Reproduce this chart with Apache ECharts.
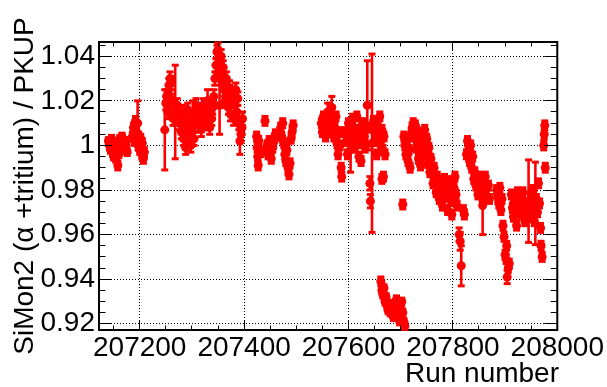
<!DOCTYPE html>
<html>
<head>
<meta charset="utf-8">
<script src="https://cdn.jsdelivr.net/npm/echarts@6/dist/echarts.min.js"></script>
<style>html,body{margin:0;padding:0;background:#fff}#c{width:607px;height:387px}</style>
</head>
<body>
<div id="c"></div>
<script>
// ---- data ----
const runNumber = [
  207140,207142,207144,207146,207148,207150,207152,207154,207156,207158,207160,207162,207164,207166,207168,207170,207172,207174,207176,
  207186,207188,207190,207192,207194,207196,207197,207198,207200,207202,207204,207205,207207,207209,
  207248,207250,207252,207254,207256,207258,207260,207262,207264,207268,207272,207276,
  207278,207280,207282,207284,207286,207288,207290,207292,207294,207296,207298,207300,207302,207304,207306,207308,
  207310,207312,207314,207316,207318,207320,207322,207324,207326,207328,207330,207332,207334,207336,207338,207340,
  207342,207344,207346,207348,207350,207352,207353,207354,207356,207358,207360,207362,207364,207366,
  207368,207370,207372,207374,207376,207378,207380,207382,207384,207386,207388,207390,207392,207394,207396,207397,
  207424,207425,207426,207427,207428,207432,207440,207444,207446,207448,207450,207452,207455,207458,207460,
  207470,207472,207474,207476,207478,207480,207482,207484,207486,207488,207490,207492,207494,
  207548,207550,207552,207554,207556,207558,207560,207562,207564,207566,207568,207570,207572,207574,207576,207578,207580,207582,207584,207586,207587,
  207594,207596,207598,207600,207602,207604,207606,207608,207610,207612,207614,207616,207618,207620,207622,207624,207626,
  207628,207630,207632,207636,207637,207641,207642,207645,207648,207650,207652,207654,207656,207658,207660,207662,207664,207666,
  207668,207670,207664,207667,
  207662,207664,207666,207668,207670,207672,207674,207676,207678,207680,207684,207686,207688,207690,207692,207694,207696,207698,207700,207702,207704,207706,207708,
  207704,
  207706,207708,207710,207712,207714,207716,207718,207720,
  207722,207724,207726,207728,207730,207732,207734,207736,207738,207740,207742,207744,207746,207748,207750,207752,207754,207756,
  207758,207760,207762,207764,207766,207768,207770,207772,207774,207776,207778,207780,207782,207784,207786,207788,207790,207792,207794,207796,207798,207800,207802,207804,207806,207808,
  207812,207814,207816,207820,207822,
  207826,207828,207830,207832,207834,207836,207838,207840,207842,207844,
  207846,207848,207850,207852,207854,207856,207857,207858,207860,207862,207864,207868,207870,
  207884,207886,207888,207890,207892,207894,
  207896,207898,207900,207902,207903,207904,207906,207908,
  207912,207914,207916,207918,207920,207922,207924,
  207928,207930,207932,207934,207936,207938,207940,207942,207945,207948,207950,207952,207954,207956,207958,207960,207962,207964,207966,207968,
  207969,207971,207974,207975,207976,207977
];
const ratio = [
  1.002,1.000,0.998,1.003,0.997,0.995,1.001,0.994,0.999,0.991,0.996,1.003,0.998,1.004,1.001,0.999,1.002,1.000,0.997,
  1.004,1.008,1.002,1.011,1.006,1.010,1.000,1.004,0.998,1.003,0.996,1.001,0.994,0.997,
  1.007,1.019,1.022,1.015,1.027,1.030,1.028,1.020,1.012,1.015,1.018,1.010,
  1.012,1.006,1.015,1.003,1.010,0.999,1.008,1.016,1.002,1.011,1.000,1.006,1.014,1.003,1.009,1.018,
  1.012,1.016,1.009,1.014,1.007,1.013,1.018,1.010,1.015,1.011,1.020,1.013,1.008,1.016,1.012,1.017,
  1.022,1.030,1.036,1.042,1.043,1.038,1.018,1.033,1.040,1.028,1.035,1.025,1.020,1.030,
  1.022,1.017,1.026,1.014,1.020,1.023,1.012,1.018,1.025,1.015,1.021,1.010,1.002,1.005,1.008,1.012,
  1.004,0.999,0.995,0.991,1.002,0.997,1.011,1.000,0.996,1.002,0.998,0.994,0.999,1.003,1.005,
  1.008,1.004,1.010,1.001,0.996,0.993,0.998,0.990,0.987,0.992,1.003,1.006,1.009,
  1.010,1.006,1.013,1.008,1.004,1.011,1.015,1.009,1.012,1.006,1.017,1.010,1.004,1.008,1.013,1.001,0.996,1.006,1.000,0.990,0.986,
  1.006,1.002,0.996,1.010,1.004,0.998,1.008,1.012,1.003,0.999,1.007,1.013,1.001,0.995,1.005,0.993,1.009,
  1.010,1.004,0.999,1.018,1.008,0.983,0.975,1.001,1.011,1.006,1.002,0.996,1.009,1.004,1.013,1.000,1.007,0.998,
  1.004,0.996,0.985,0.986,
  0.939,0.935,0.933,0.936,0.930,0.932,0.928,0.926,0.929,0.925,0.927,0.923,0.929,0.926,0.931,0.928,0.924,0.921,0.927,0.930,0.925,0.921,0.919,
  0.9735,
  1.004,1.000,0.996,1.002,0.993,0.998,0.990,1.005,
  1.008,1.010,1.004,1.009,0.999,1.006,0.994,1.002,0.991,0.997,1.005,1.000,1.007,0.996,1.003,0.992,0.999,0.988,
  0.994,0.988,0.983,0.990,0.985,0.979,0.986,0.981,0.976,0.983,0.978,0.973,0.980,0.985,0.977,0.982,0.971,0.979,0.984,0.976,0.969,0.975,0.981,0.986,0.978,0.973,
  0.960,0.957,0.946,0.971,0.969,
  0.996,1.002,0.998,0.993,1.000,0.990,0.995,0.985,0.988,0.982,
  0.984,0.978,0.983,0.986,0.979,0.984,0.973,0.975,0.981,0.986,0.977,0.982,0.976,
  0.980,0.977,0.974,0.981,0.971,0.976,
  0.964,0.959,0.951,0.949,0.955,0.941,0.945,0.947,
  0.978,0.972,0.968,0.975,0.970,0.964,0.979,
  0.973,0.969,0.975,0.979,0.971,0.966,0.974,0.970,0.975,0.968,0.978,0.972,0.980,0.966,0.974,0.976,0.970,0.983,0.974,0.963,
  0.955,0.950,1.000,1.005,1.009,0.990
];
const ratioError = [
  0.0015,0.0015,0.0015,0.0015,0.0015,0.0015,0.0015,0.0015,0.0015,0.002,0.0015,0.0015,0.0015,0.0015,0.0015,0.0015,0.0015,0.0015,0.0015,
  0.002,0.002,0.002,0.002,0.002,0.010,0.002,0.002,0.002,0.002,0.002,0.002,0.002,0.002,
  0.018,0.003,0.003,0.003,0.003,0.003,0.003,0.003,0.003,0.021,0.003,0.003,
  0.003,0.003,0.003,0.003,0.003,0.003,0.003,0.003,0.003,0.003,0.003,0.003,0.006,0.003,0.003,0.003,
  0.003,0.003,0.003,0.003,0.003,0.003,0.003,0.003,0.003,0.003,0.005,0.003,0.003,0.003,0.003,0.003,
  0.003,0.003,0.003,0.003,0.003,0.003,0.013,0.003,0.003,0.003,0.003,0.003,0.003,0.003,
  0.003,0.003,0.003,0.003,0.003,0.003,0.003,0.003,0.003,0.003,0.003,0.003,0.006,0.003,0.003,0.003,
  0.002,0.002,0.002,0.002,0.002,0.002,0.002,0.002,0.002,0.002,0.002,0.002,0.002,0.002,0.002,
  0.002,0.002,0.002,0.002,0.002,0.002,0.002,0.002,0.002,0.002,0.002,0.002,0.002,
  0.002,0.002,0.002,0.002,0.002,0.002,0.004,0.002,0.002,0.002,0.005,0.002,0.002,0.002,0.002,0.002,0.002,0.002,0.002,0.002,0.002,
  0.002,0.002,0.002,0.002,0.002,0.010,0.002,0.002,0.002,0.002,0.002,0.002,0.002,0.002,0.002,0.002,0.002,
  0.002,0.002,0.002,0.020,0.002,0.003,0.003,0.040,0.002,0.002,0.002,0.002,0.002,0.002,0.002,0.002,0.002,0.002,
  0.002,0.002,0.002,0.002,
  0.002,0.0015,0.0015,0.0015,0.0015,0.0015,0.0015,0.0015,0.0015,0.0015,0.0015,0.0015,0.0015,0.0015,0.0015,0.0015,0.0015,0.0015,0.0015,0.0015,0.0015,0.0015,0.0015,
  0.002,
  0.002,0.002,0.002,0.002,0.002,0.002,0.002,0.002,
  0.002,0.002,0.002,0.002,0.002,0.002,0.002,0.002,0.002,0.002,0.002,0.002,0.002,0.002,0.002,0.002,0.002,0.002,
  0.002,0.002,0.002,0.002,0.002,0.002,0.002,0.002,0.002,0.002,0.002,0.002,0.002,0.002,0.002,0.002,0.002,0.002,0.002,0.002,0.002,0.002,0.002,0.002,0.002,0.002,
  0.003,0.004,0.009,0.002,0.002,
  0.002,0.002,0.002,0.002,0.002,0.002,0.002,0.002,0.002,0.002,
  0.002,0.002,0.002,0.002,0.002,0.002,0.013,0.002,0.002,0.002,0.002,0.002,0.002,
  0.002,0.002,0.002,0.002,0.002,0.002,
  0.002,0.002,0.002,0.002,0.002,0.003,0.002,0.002,
  0.002,0.002,0.002,0.002,0.002,0.002,0.002,
  0.002,0.002,0.002,0.002,0.002,0.002,0.002,0.002,0.0185,0.002,0.002,0.002,0.002,0.002,0.0185,0.002,0.002,0.002,0.002,0.002,
  0.002,0.002,0.002,0.002,0.002,0.002
];
// axis ranges and ticks
const xRange = [207122, 208000];
const yRange = [0.9172, 1.0464];
const xMajorTicks = [207200, 207400, 207600, 207800, 208000];
const xMinorTicks = [207150,207250,207300,207350,207450,207500,207550,207650,207700,207750,207850,207900,207950];
const yMajorTicks = [0.92, 0.94, 0.96, 0.98, 1.00, 1.02, 1.04];
const yMinorTicks = [0.925,0.93,0.935,0.945,0.95,0.955,0.965,0.97,0.975,0.985,0.99,0.995,1.005,1.01,1.015,1.025,1.03,1.035,1.045];
const xTitle = 'Run number';
const yTitle = 'SiMon2 (\u03B1 +tritium) / PKUP';

// ---- chart ----
const RED = '#ff0000';
const FONT = '"Liberation Sans", Arial, Helvetica, sans-serif';
const points = runNumber.map((r, i) => [r, ratio[i], ratioError[i]]);

const chart = echarts.init(document.getElementById('c'), null, {renderer: 'canvas'});
const snap = c => Math.round(c - 0.5) + 0.5;

function decoRender(params, api) {
  const ch = [];
  const y0 = yRange[0], y1 = yRange[1], x0 = xRange[0], x1 = xRange[1];
  const ln = (a, b) => ({
    type: 'line', silent: true,
    shape: {x1: a[0], y1: a[1], x2: b[0], y2: b[1]},
    style: {stroke: '#000', lineWidth: 1, lineDash: [1, 2]}
  });
  xMajorTicks.forEach(v => {
    if (v < x1) {
      const b = api.coord([v, y0]), t = api.coord([v, y1]);
      ch.push(ln([snap(b[0]), b[1]], [snap(t[0]), t[1]]));
    }
  });
  yMajorTicks.forEach(v => {
    const l = api.coord([x0, v]), r = api.coord([x1, v]);
    ch.push(ln([l[0], snap(l[1])], [r[0], snap(r[1])]));
  });
  return {type: 'group', children: ch};
}

function tickRender(params, api) {
  const ch = [];
  const y0 = yRange[0], y1 = yRange[1], x0 = xRange[0], x1 = xRange[1];
  const ln = (a, b) => ({type: 'line', silent: true, shape: {x1: a[0], y1: a[1], x2: b[0], y2: b[1]}, style: {stroke: '#000', lineWidth: 1}});
  const xt = (v, len) => {
    const b = api.coord([v, y0]), t = api.coord([v, y1]);
    const x = snap(b[0]);
    ch.push(ln([x, b[1]], [x, b[1] - len]));
    ch.push(ln([x, t[1]], [x, t[1] + len]));
  };
  const yt = (v, len) => {
    const l = api.coord([x0, v]), r = api.coord([x1, v]);
    const y = snap(l[1]);
    ch.push(ln([l[0], y], [l[0] + len, y]));
    ch.push(ln([r[0], y], [r[0] - len, y]));
  };
  xMajorTicks.forEach(v => xt(v, 9));
  xMinorTicks.forEach(v => xt(v, 4.5));
  yMajorTicks.forEach(v => yt(v, 13));
  yMinorTicks.forEach(v => yt(v, 6.5));
  return {type: 'group', children: ch};
}

function errRender(params, api) {
  const x = api.value(0), y = api.value(1), e = api.value(2);
  const top = api.coord([x, y + e]);
  const bot = api.coord([x, y - e]);
  const cw = 3.5;
  return {
    type: 'group',
    children: [
      {type: 'line', shape: {x1: top[0], y1: top[1], x2: bot[0], y2: bot[1]}, style: {stroke: RED, lineWidth: 2.6}},
      {type: 'line', shape: {x1: top[0] - cw, y1: top[1], x2: top[0] + cw, y2: top[1]}, style: {stroke: RED, lineWidth: 3}},
      {type: 'line', shape: {x1: bot[0] - cw, y1: bot[1], x2: bot[0] + cw, y2: bot[1]}, style: {stroke: RED, lineWidth: 3}}
    ]
  };
}

const yFmt = v => { const s = (+v).toFixed(2); return s === '1.00' ? '1' : s; };

chart.setOption({
  animation: false,
  backgroundColor: '#fff',
  grid: {left: 99, right: 48, top: 42, bottom: 57, show: true, borderColor: '#000', borderWidth: 2, backgroundColor: 'transparent'},
  xAxis: {
    type: 'value', min: xRange[0], max: xRange[1],
    axisLine: {show: false}, axisTick: {show: false}, splitLine: {show: false},
    axisLabel: {customValues: xMajorTicks, formatter: v => String(Math.round(v)), color: '#000', fontSize: 28, fontFamily: FONT, margin: 4, showMaxLabel: true, hideOverlap: false}
  },
  yAxis: {
    type: 'value', min: yRange[0], max: yRange[1],
    axisLine: {show: false}, axisTick: {show: false}, splitLine: {show: false},
    axisLabel: {customValues: yMajorTicks, formatter: yFmt, color: '#000', fontSize: 28, fontFamily: FONT, margin: 4, hideOverlap: false}
  },
  graphic: [
    {type: 'text', x: 25, y: 186, rotation: Math.PI / 2, silent: true,
     style: {text: yTitle, font: '28px ' + FONT, fill: '#000', align: 'center', verticalAlign: 'middle'}},
    {type: 'text', x: 559, y: 374, silent: true,
     style: {text: xTitle, font: '28px ' + FONT, fill: '#000', align: 'right', verticalAlign: 'middle'}}
  ],
  series: [
    {type: 'custom', name: 'grid', data: [[0]], renderItem: decoRender, silent: true, z: 1},
    {type: 'custom', name: 'err', data: points, renderItem: errRender, silent: true, z: 2,
     encode: {x: 0, y: 1}},
    {type: 'scatter', name: 'ratio', data: points.map(p => [p[0], p[1]]), symbol: 'circle', symbolSize: 9,
     itemStyle: {color: RED, opacity: 1}, silent: true, z: 3, large: false},
    {type: 'custom', name: 'ticks', data: [[0]], renderItem: tickRender, silent: true, z: 4}
  ]
});
</script>
</body>
</html>
